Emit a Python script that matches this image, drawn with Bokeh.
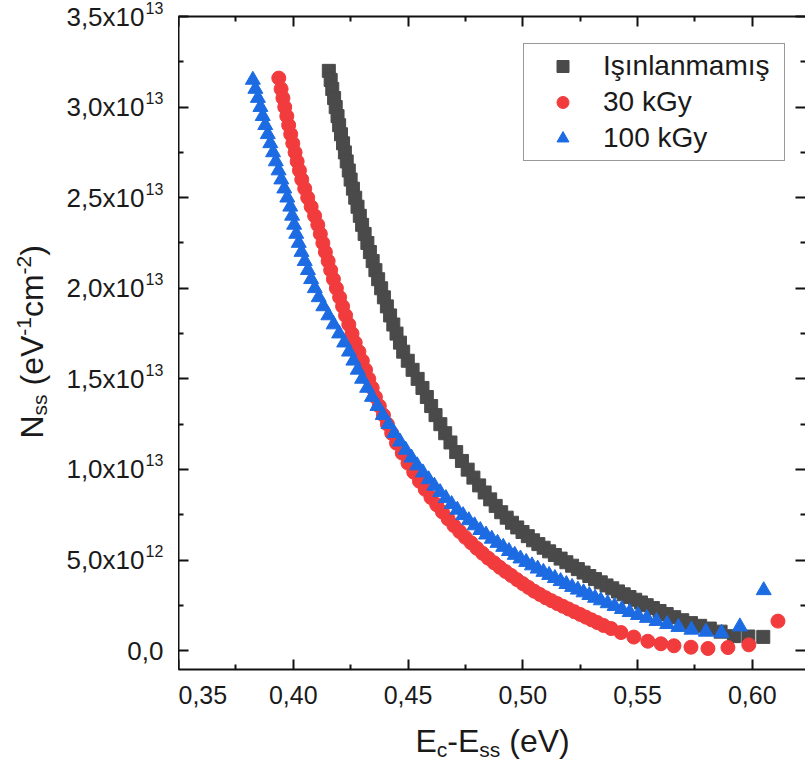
import math
from bokeh.plotting import figure
from bokeh.layouts import row, column
from bokeh.models import Range1d, FixedTicker, LinearAxis, Label, Legend, LegendItem
from bokeh.core.properties import value
from bokeh.embed import file_html
from bokeh.resources import INLINE

# ---------------- data (Nss in units of 1e12 eV^-1 cm^-2) ----------------
series_names = ["Işınlanmamış", "30 kGy", "100 kGy"]

ec_0 = [0.4155, 0.4163, 0.4170, 0.4178, 0.4185, 0.4193, 0.4200, 0.4208, 0.4217, 0.4225,
        0.4233, 0.4242, 0.4250, 0.4260, 0.4270, 0.4280, 0.4290, 0.4300, 0.4311, 0.4323,
        0.4334, 0.4346, 0.4358, 0.4370, 0.4383, 0.4395, 0.4408, 0.4422, 0.4436, 0.4450,
        0.4465, 0.4479, 0.4499, 0.4520, 0.4542, 0.4563, 0.4582, 0.4601, 0.4620, 0.4641,
        0.4662,
        0.4685, 0.4710, 0.4735, 0.4760, 0.4785, 0.4810, 0.4834, 0.4858, 0.4882, 0.4906,
        0.4930, 0.4953, 0.4976, 0.4999, 0.5022, 0.5045, 0.5068, 0.5091, 0.5115, 0.5140,
        0.5165, 0.5190, 0.5215, 0.5240, 0.5265, 0.5290, 0.5315, 0.5340, 0.5365, 0.5390,
        0.5415, 0.5440, 0.5465, 0.5490, 0.5515, 0.5540,
        0.5567, 0.5596, 0.5627, 0.5660, 0.5695, 0.5733, 0.5773, 0.5815, 0.5862, 0.5920,
        0.5983, 0.6048]
nss_0 = [32.0, 31.5, 31.0, 30.5, 30.0, 29.5, 29.0, 28.5, 28.0, 27.5,
         27.0, 26.5, 26.0, 25.5, 25.0, 24.5, 24.0, 23.5, 23.0, 22.5,
         22.0, 21.5, 21.0, 20.5, 20.0, 19.5, 19.0, 18.5, 18.0, 17.5,
         17.0, 16.5, 16.0, 15.5, 15.0, 14.5, 14.0, 13.5, 13.0, 12.5,
         12.0,
         11.49, 10.96, 10.47, 9.99, 9.55, 9.12, 8.73, 8.35, 7.99, 7.64,
         7.34, 7.06, 6.80, 6.55, 6.32, 6.09, 5.88, 5.68, 5.48, 5.28,
         5.08, 4.88, 4.69, 4.50, 4.31, 4.12, 3.95, 3.77, 3.60, 3.44,
         3.27, 3.11, 2.96, 2.81, 2.66, 2.51,
         2.35, 2.19, 2.02, 1.85, 1.68, 1.52, 1.37, 1.22, 1.05, 0.80,
         0.78, 0.76]

ec_30 = [0.3937, 0.3947, 0.3955, 0.3963, 0.3972, 0.3980, 0.3989, 0.3998, 0.4008, 0.4017,
         0.4027, 0.4037, 0.4050, 0.4063, 0.4078, 0.4093, 0.4107, 0.4118, 0.4129, 0.4140,
         0.4152, 0.4163, 0.4175, 0.4188, 0.4202, 0.4215, 0.4228, 0.4242, 0.4256, 0.4270,
         0.4286, 0.4301, 0.4315, 0.4329, 0.4344, 0.4358, 0.4375, 0.4393, 0.4410, 0.4429,
         0.4450, 0.4475, 0.4500, 0.4525, 0.4550, 0.4575, 0.4600, 0.4625, 0.4650, 0.4675,
         0.4700, 0.4725, 0.4750, 0.4775, 0.4800, 0.4825, 0.4850, 0.4875, 0.4900, 0.4925,
         0.4950, 0.4975, 0.5000, 0.5025, 0.5050, 0.5075, 0.5100, 0.5125, 0.5150, 0.5175,
         0.5200, 0.5225, 0.5250, 0.5275, 0.5300, 0.5325,
         0.5352, 0.5385, 0.5428, 0.5484, 0.5545, 0.5602, 0.5659, 0.5733, 0.5807, 0.5894,
         0.5985, 0.6112]
nss_30 = [31.6, 31.0, 30.5, 30.0, 29.5, 29.0, 28.5, 28.0, 27.5, 27.0,
          26.5, 26.0, 25.5, 25.0, 24.5, 24.0, 23.5, 23.0, 22.5, 22.0,
          21.5, 21.0, 20.5, 20.0, 19.5, 19.0, 18.5, 18.0, 17.5, 17.0,
          16.5, 16.0, 15.5, 15.0, 14.5, 14.0, 13.5, 13.0, 12.5, 12.0,
          11.45, 10.90, 10.35, 9.85, 9.35, 8.90, 8.45, 8.05, 7.65, 7.27,
          6.90, 6.57, 6.25, 5.95, 5.65, 5.37, 5.10, 4.85, 4.60, 4.37,
          4.15, 3.92, 3.70, 3.49, 3.28, 3.10, 2.92, 2.76, 2.60, 2.45,
          2.30, 2.15, 2.00, 1.85, 1.70, 1.55,
          1.39, 1.22, 1.00, 0.75, 0.52, 0.38, 0.27, 0.19, 0.12, 0.17,
          0.32, 1.63]

ec_100 = [0.3824, 0.3835, 0.3846, 0.3857, 0.3867, 0.3878, 0.3889, 0.3900, 0.3912, 0.3924,
          0.3936, 0.3948, 0.3961, 0.3974, 0.3987, 0.3995, 0.4004, 0.4013, 0.4024, 0.4036,
          0.4050, 0.4064, 0.4078, 0.4094, 0.4111, 0.4131, 0.4153, 0.4176, 0.4200, 0.4222,
          0.4243, 0.4262, 0.4281, 0.4300, 0.4322, 0.4343, 0.4367, 0.4390, 0.4415, 0.4440,
          0.4465, 0.4490, 0.4515, 0.4540, 0.4565, 0.4590, 0.4615, 0.4640, 0.4665, 0.4690,
          0.4715, 0.4740, 0.4765, 0.4790, 0.4815, 0.4840, 0.4865, 0.4890, 0.4915, 0.4940,
          0.4965, 0.4990, 0.5015, 0.5040, 0.5065, 0.5090, 0.5115, 0.5140, 0.5165, 0.5190,
          0.5215, 0.5240, 0.5265, 0.5290, 0.5315, 0.5340,
          0.5370, 0.5400, 0.5432, 0.5466, 0.5502, 0.5541, 0.5583, 0.5629, 0.5678, 0.5735,
          0.5798, 0.5866, 0.5946, 0.6050]
nss_100 = [31.5, 31.0, 30.5, 30.0, 29.5, 29.0, 28.5, 28.0, 27.5, 27.0,
           26.5, 26.0, 25.5, 25.0, 24.5, 24.0, 23.5, 23.0, 22.5, 22.0,
           21.5, 21.0, 20.5, 20.0, 19.5, 19.0, 18.5, 18.0, 17.5, 17.0,
           16.5, 16.0, 15.5, 15.0, 14.5, 14.0, 13.5, 13.0, 12.5, 12.0,
           11.53, 11.08, 10.65, 10.22, 9.83, 9.45, 9.09, 8.74, 8.41, 8.08,
           7.77, 7.47, 7.19, 6.91, 6.65, 6.40, 6.17, 5.94, 5.72, 5.49,
           5.28, 5.08, 4.89, 4.70, 4.52, 4.34, 4.17, 4.00, 3.83, 3.67,
           3.51, 3.36, 3.21, 3.06, 2.91, 2.77,
           2.61, 2.46, 2.29, 2.12, 1.96, 1.80, 1.63, 1.46, 1.30, 1.15,
           1.04, 0.98, 1.33, 3.33]

x_ticks = [0.35, 0.40, 0.45, 0.50, 0.55, 0.60]
x_tick_labels = ["0,35", "0,40", "0,45", "0,50", "0,55", "0,60"]
x_minor = [0.375, 0.425, 0.475, 0.525, 0.575, 0.625]
y_ticks = [0, 5, 10, 15, 20, 25, 30, 35]
y_tick_mantissa = ["0,0", "5,0x10", "1,0x10", "1,5x10", "2,0x10", "2,5x10", "3,0x10", "3,5x10"]
y_tick_exponent = ["", "12", "13", "13", "13", "13", "13", "13"]
y_minor = [2.5, 7.5, 12.5, 17.5, 22.5, 27.5, 32.5]

# ---------------- layout / styling ----------------
FONT = "Liberation Sans"
TXT = "#1a1a1a"
AX = "#111111"
colors = ["#4a4a4a", "#f23b3d", "#1c6be3"]
W, H = 805, 765
FL, FT, FB = 178, 16, 669          # frame left / top / bottom in page pixels
XT_H = 45                          # height of the strip holding the x title
MAIN_W, MAIN_H = W - FL, H - XT_H
X0, X1 = 0.35, 0.6232
Y0, Y1 = -1.04, 35.0
BASE_K = 0.36                      # rendered baseline sits this many em lower than asked


def bare(width, height, xr, yr):
    f = figure(width=width, height=height, output_backend="svg", toolbar_location=None,
               x_range=xr, y_range=yr, x_axis_location=None, y_axis_location=None,
               min_border_left=0, min_border_right=0, min_border_top=0, min_border_bottom=0)
    f.outline_line_color = None
    f.grid.visible = False
    f.background_fill_color = "white"
    f.border_fill_color = "white"
    return f


p = figure(width=MAIN_W, height=MAIN_H, output_backend="svg", toolbar_location=None,
           x_range=Range1d(X0, X1), y_range=Range1d(Y0, Y1),
           x_axis_location=None, y_axis_location=None,
           min_border_left=0, min_border_top=FT,
           min_border_bottom=MAIN_H - FB, min_border_right=0)
p.outline_line_color = None
p.grid.visible = False
p.background_fill_color = "white"
p.border_fill_color = "white"


def mk_axis(ticks, minor, labels=None, standoff=12):
    ax = LinearAxis(ticker=FixedTicker(ticks=ticks, minor_ticks=minor))
    ax.axis_line_width = 2
    ax.axis_line_color = AX
    ax.major_tick_in = 10
    ax.major_tick_out = 0
    ax.minor_tick_in = 5
    ax.minor_tick_out = 0
    ax.major_tick_line_width = 2
    ax.minor_tick_line_width = 2
    ax.major_tick_line_color = AX
    ax.minor_tick_line_color = AX
    if labels is not None:
        ax.major_label_overrides = dict(zip(ticks, labels))
        ax.major_label_text_font = FONT
        ax.major_label_text_font_size = "25px"
        ax.major_label_text_color = TXT
        ax.major_label_standoff = standoff
    else:
        ax.major_label_overrides = {t: "" for t in ticks}
        ax.major_label_text_font_size = "0px"
        ax.major_label_standoff = 0
    return ax


p.add_layout(mk_axis(x_ticks, x_minor, x_tick_labels, 16), "below")
p.add_layout(mk_axis(y_ticks, y_minor), "left")
p.add_layout(mk_axis(x_ticks, x_minor), "above")
right_ax = mk_axis(y_ticks, y_minor)
right_ax.axis_line_alpha = 0
p.add_layout(right_ax, "right")

r0 = p.scatter(ec_0, nss_0, marker="square", size=13, fill_color=colors[0], line_color=colors[0])
r1 = p.scatter(ec_30, nss_30, marker="circle", size=14, fill_color=colors[1], line_color=colors[1])
r2 = p.scatter(ec_100, nss_100, marker="triangle", size=15, fill_color=colors[2], line_color=colors[2])

legend = Legend(items=[LegendItem(label=n, renderers=[r]) for n, r in zip(series_names, [r0, r1, r2])],
                location=(523 - FL, FB - 161),
                border_line_color="#333333", border_line_width=1.5,
                background_fill_color="white", background_fill_alpha=1,
                padding=6, spacing=4, glyph_width=65, glyph_height=30,
                label_height=30, label_width=175, label_standoff=8,
                label_text_font=FONT, label_text_font_size="28px",
                label_text_color=TXT, margin=0)
p.add_layout(legend)

# ---------------- left strip: y tick labels (with raised exponents) and y title ----------------
scale = (FB - FT) / (Y1 - Y0)                       # px per data unit
left = bare(FL, H, Range1d(0, FL), Range1d(Y0 - (H - FB) / scale, Y1 + FT / scale))
MANT_PX, EXP_PX = 26, 16
mant_x = [144 if e else 163 for e in y_tick_exponent]
left.text(x=mant_x, y=y_ticks, text=y_tick_mantissa, text_align="right",
          text_baseline="alphabetic", y_offset=round(9 - BASE_K * MANT_PX),
          text_font=value(FONT), text_font_size=value(f"{MANT_PX}px"), text_color=TXT)
left.text(x=[145] * len(y_ticks), y=y_ticks, text=y_tick_exponent, text_align="left",
          text_baseline="alphabetic", y_offset=round(-3 - BASE_K * EXP_PX),
          text_font=value(FONT), text_font_size=value(f"{EXP_PX}px"), text_color=TXT)

# ---------------- bottom strip for the x title ----------------
bottom = bare(MAIN_W, XT_H, Range1d(0, 1), Range1d(0, 1))

ADV = {'E': 0.667, 'c': 0.5, '-': 0.333, 's': 0.5, ' ': 0.278, '(': 0.333, 'e': 0.556,
       'V': 0.667, ')': 0.333, 'N': 0.722, '1': 0.556, '2': 0.556, 'm': 0.833}


def width(txt, size):
    return sum(ADV.get(ch, 0.55) for ch in txt) * size


def title(fig, ox, oy_bottom, pieces, cx0, cy0, vertical):
    """pieces placed in page pixels; ox = page x of fig left, oy_bottom = page y of fig bottom"""
    pos = 0.0
    for txt, size, shift in pieces:
        lead = len(txt) - len(txt.lstrip(" "))
        pos += width(" " * lead, size)
        core = txt.strip(" ")
        down = shift - BASE_K * size
        if vertical:
            cx, cy, ang = cx0 + down, cy0 - pos, math.pi / 2
        else:
            cx, cy, ang = cx0 + pos, cy0 + down, 0
        fig.add_layout(Label(x=cx - ox, y=oy_bottom - cy, x_units="screen", y_units="screen",
                             text=core, angle=ang, text_font=FONT,
                             text_font_size=f"{size}px", text_color=TXT,
                             text_align="left", text_baseline="alphabetic"))
        pos += width(core, size)


title(bottom, FL, H, [("E", 32, 0), ("c", 21, 5), ("-E", 32, 0), ("ss", 21, 5), (" (eV)", 32, 0)],
      415, 752, False)
title(left, 0, H, [("N", 32, 0), ("ss", 21, 4), (" (eV", 32, 0), ("-1", 21, -12), ("cm", 32, 0),
                   ("-2", 21, -12), (")", 32, 0)], 43, 438, True)

layout = row(left, column(p, bottom))
open("out.html", "w").write(file_html(layout, INLINE))
